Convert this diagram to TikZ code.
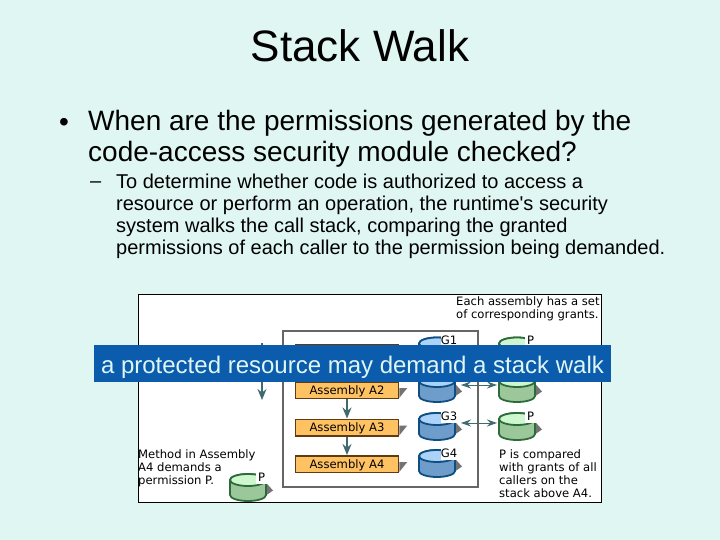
\documentclass[tikz,border=0pt]{standalone}
\usepackage{fontspec}
\setmainfont{Liberation Sans}
\newfontfamily\slidefont{Liberation Sans}
\newfontfamily\figfont{DejaVu Sans}
\usetikzlibrary{positioning,arrows.meta}
\definecolor{slidebg}{HTML}{E0F6F3}
\definecolor{bannerblue}{HTML}{0B5CAD}
\definecolor{bannertext}{HTML}{DFF6F4}
\definecolor{boxorange}{HTML}{FFC263}
\definecolor{boxbrown}{HTML}{5E3B12}
\definecolor{arrowteal}{HTML}{3F6B70}
\definecolor{grantbody}{HTML}{6E9CCB}
\definecolor{grantcap}{HTML}{ABD2F8}
\definecolor{grantedge}{HTML}{0F4E80}
\definecolor{permbody}{HTML}{9CC79A}
\definecolor{permcap}{HTML}{CFF7CF}
\definecolor{permedge}{HTML}{2E6B3B}
\tikzset{
  title/.style={font=\fontsize{44}{48}\selectfont,inner sep=0},
  point/.style={font=\fontsize{28}{31}\selectfont,align=left,anchor=north west,inner sep=0},
  subpoint/.style={font=\slidefont\fontsize{20}{21.8}\selectfont,align=left,anchor=north west,inner sep=0},
  mark point/.style={inner sep=0,anchor=base west},
  figtext/.style={font=\figfont\fontsize{11.6}{13.3}\selectfont,align=left,anchor=north west,inner sep=0},
  caplabel/.style={font=\figfont\fontsize{11.6}{13.3}\selectfont,fill=white,inner sep=0,anchor=center,
                   minimum height=13,minimum width=16,text height=9pt,text depth=0pt},
  caplabels/.style={caplabel,minimum width=12},
  frame/.style={draw=black,line width=1pt,fill=white},
  stackbox/.style={draw=black!60,line width=2pt,fill=white},
  assembly/.style={rectangle,draw=boxbrown,line width=1.5pt,fill=boxorange,minimum width=103,minimum height=16.5,inner sep=0,
                   text height=9.5pt,text depth=1.5pt,font=\figfont\fontsize{11.6}{12}\selectfont},
  wedge/.style={fill=black!55},
  walk/.style={-{Stealth[length=11pt,width=9pt]},draw=arrowteal,line width=1.5pt},
  compare/.style={{Stealth[length=10pt,width=7pt]}-{Stealth[length=10pt,width=7pt]},draw=arrowteal,line width=1pt,
                  shorten <=6pt,shorten >=2pt},
  banner/.style={fill=bannerblue,text=bannertext,minimum width=517,minimum height=37,inner sep=0,
                 text height=22pt,text depth=3pt,font=\fontsize{24}{26}\selectfont},
  % a drum: #1 is grant or perm and picks the colours
  pics/drum/.style={code={
    \fill[wedge] (16,-7) -- (25,3) -- (15,10) -- cycle;
    \draw[fill=#1body,draw=#1edge,line width=1.8pt] (-18,-7.5) -- (-18,7.5)
      arc[start angle=180,end angle=360,x radius=18pt,y radius=6pt] -- (18,-7.5)
      arc[start angle=0,end angle=180,x radius=18pt,y radius=6pt] -- cycle;
    \draw[fill=#1cap,draw=#1edge,line width=1.8pt] (0,-7.5) ellipse[x radius=18pt,y radius=6pt];
    \coordinate (-east) at (18,0);
    \coordinate (-west) at (-18,0);
  }},
}
\begin{document}
\begin{tikzpicture}[x=1pt,y=-1pt]
  \useasboundingbox (0,0) rectangle (720,540);
  \fill[slidebg] (0,0) rectangle (720,540);
  % slide text
  \node[title] (head) at (360,46) {Stack Walk};
  \node[point,mark point] (dot) at (59,132) {•};
  \node[point] (ask) at (88,110) {When are the permissions generated by the\\code-access security module checked?};
  \node[subpoint,mark point] (dash) at (90,188) {–};
  \node[subpoint] (answer) at (116,174) {To determine whether code is authorized to access a\\resource or perform an operation, the runtime's security\\system walks the call stack, comparing the granted\\permissions of each caller to the permission being demanded.};
  % the figure
  \draw[frame] (138,294) rectangle (601,502);
  \draw[stackbox] (283,331) rectangle (478,487);
  \node[figtext] (eachnote) at (456,296) {Each assembly has a set\\of corresponding grants.};
  \node[figtext] (methodnote) at (138,449) {Method in Assembly\\A4 demands a\\permission P.};
  \node[figtext] (comparenote) at (499,449) {P is compared\\with grants of all\\callers on the\\stack above A4.};
  % assemblies
  \node[assembly] (a1) at (347,353) {};
  \node[assembly] (a2) at (347,390) {Assembly A2};
  \node[assembly] (a3) at (347,427.5) {Assembly A3};
  \node[assembly] (a4) at (347,464) {Assembly A4};
  \foreach \a in {a2,a3,a4} {
    \fill[wedge] ([yshift=2pt]\a.east) -- ++(8,0) -- ([yshift=-8pt]\a.east) -- cycle;
  }
  \draw[walk] (a2) -- (a3);
  \draw[walk] (a3) -- (a4);
  % grants and the demanded permission
  \pic (g1) at (437,351) {drum=grant};
  \pic (g2) at (437,388.5) {drum=grant};
  \pic (g3) at (437,426.5) {drum=grant};
  \pic (g4) at (437,463.5) {drum=grant};
  \pic (p1) at (517,351) {drum=perm};
  \pic (p2) at (517,388.5) {drum=perm};
  \pic (p3) at (517,426.5) {drum=perm};
  \pic (p0) at (248,487.5) {drum=perm};
  \node[caplabel] (g1lab) at (449,340) {G1};
  \node[caplabel] (g3lab) at (449,416) {G3};
  \node[caplabel] (g4lab) at (449,453) {G4};
  \node[caplabels] (p1lab) at (530.5,340) {P};
  \node[caplabels] (p3lab) at (530.5,416) {P};
  \node[caplabels] (p0lab) at (261.5,477) {P};
  \draw[compare] ([yshift=3.5pt]g2-east) -- ([yshift=3.5pt]p2-west);
  \draw[compare] ([yshift=3.5pt]g3-east) -- ([yshift=3.5pt]p3-west);
  \coordinate (walktop) at (262,343);
  \coordinate (walkend) at (262,400);
  \draw[walk] (walktop) -- (walkend);
  % caption strip over the figure
  \node[banner] (strip) at (352.5,363.5) {a protected resource may demand a stack walk};
\end{tikzpicture}
\end{document}
